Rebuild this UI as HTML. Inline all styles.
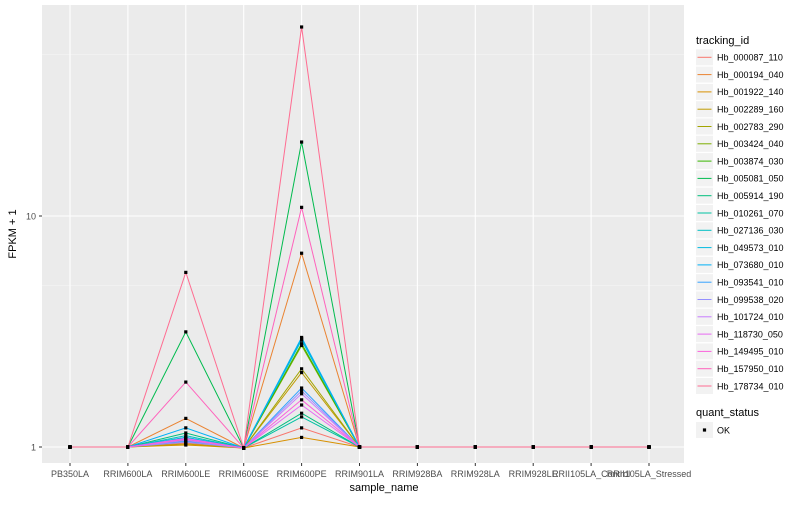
<!DOCTYPE html>
<html><head><meta charset="utf-8">
<style>
body{margin:0;background:#fff;font-family:"Liberation Sans",sans-serif;}
svg text{font-family:"Liberation Sans",sans-serif;}
</style></head>
<body>
<svg id="chart" width="800" height="500" xmlns="http://www.w3.org/2000/svg">
<rect x="42" y="5" width="642" height="458" fill="#EBEBEB"/>
<g id="grid"></g>
<g id="series"></g>
<g id="points"></g>
<g id="axes"></g>
<g id="legend"></g>
</svg>
<script>
const categories = ["PB350LA","RRIM600LA","RRIM600LE","RRIM600SE","RRIM600PE","RRIM901LA","RRIM928BA","RRIM928LA","RRIM928LE","RRII105LA_Control","RRII105LA_Stressed"];
const seriesIds = ["Hb_000087_110","Hb_000194_040","Hb_001922_140","Hb_002289_160","Hb_002783_290","Hb_003424_040","Hb_003874_030","Hb_005081_050","Hb_005914_190","Hb_010261_070","Hb_027136_030","Hb_049573_010","Hb_073680_010","Hb_093541_010","Hb_099538_020","Hb_101724_010","Hb_118730_050","Hb_149495_010","Hb_157950_010","Hb_178734_010"];
const colors = ["#F8766D","#EA8331","#D89000","#C09B00","#A3A500","#7CAE00","#39B600","#00BB4E","#00BF7D","#00C1A3","#00BFC4","#00BAE0","#00B0F6","#35A2FF","#9590FF","#C77CFF","#E76BF3","#FA62DB","#FF62BC","#FF6C91"];
// values at RRIM600LE, RRIM600PE (others ~1)
const leValues = [1.04,1.33,1.02,1.03,1.05,1.08,1.07,3.15,1.15,1.1,1.12,1.1,1.21,1.06,1.05,1.07,1.09,1.08,1.91,5.7];
const peValues = [1.21,6.9,1.1,2.1,2.18,2.75,2.8,20.9,1.4,1.35,2.95,2.9,2.98,1.8,1.75,1.7,1.52,1.6,10.9,65.8];
const seValues = [0.99,0.99,0.99,0.99,0.99,0.99,0.99,0.99,0.99,0.99,0.99,0.99,0.99,0.99,0.99,0.99,0.99,0.99,0.99,0.99];
const yTicks = [1,10];

const NS="http://www.w3.org/2000/svg";
function mk(tag,attrs,parent){const e=document.createElementNS(NS,tag);for(const k in attrs)e.setAttribute(k,attrs[k]);parent.appendChild(e);return e;}
const xPos=i=>70+i*57.9;
const yPos=v=>447-231*Math.log10(v);
const grid=document.getElementById('grid'),ser=document.getElementById('series'),pts=document.getElementById('points'),axes=document.getElementById('axes'),leg=document.getElementById('legend');

// minor grid
[0.5,5,50].forEach(v=>{const y=yPos(v);if(y>5&&y<463){const l=mk('line',{x1:42,x2:684,y1:y,y2:y,stroke:'#F5F5F5','stroke-width':0.6},grid);

}});
yTicks.forEach(v=>{const y=yPos(v);const l=mk('line',{x1:42,x2:684,y1:y,y2:y,stroke:'#fff','stroke-width':1.1},grid);


mk('line',{x1:39,x2:42,y1:y,y2:y,stroke:'#333'},axes);
const t=mk('text',{x:36,y:y+3.5,'text-anchor':'end','font-size':9,fill:'#4D4D4D'},axes);t.textContent=v;

});
categories.forEach((c,i)=>{const x=xPos(i);const l=mk('line',{x1:x,x2:x,y1:5,y2:463,stroke:'#fff','stroke-width':1.1},grid);


mk('line',{x1:x,x2:x,y1:463,y2:466,stroke:'#333'},axes);
const t=mk('text',{x:x,y:477,'text-anchor':'middle','font-size':9,fill:'#4D4D4D'},axes);t.textContent=c;

});

seriesIds.forEach((id,s)=>{
  const vals=categories.map((c,i)=>i===2?leValues[s]:i===3?seValues[s]:i===4?peValues[s]:1);
  const d=vals.map((v,i)=>(i?'L':'M')+xPos(i).toFixed(1)+','+yPos(v).toFixed(1)).join(' ');
  const p=mk('path',{d:d,fill:'none',stroke:colors[s],'stroke-width':1},ser);
  
  
  vals.forEach((v,i)=>{const r=mk('rect',{x:xPos(i)-1.6,y:yPos(v)-1.6,width:3.2,height:3.2,fill:'#000'},pts);
  
  });
  const ly=57.3+s*17.3;
  const bg=mk('rect',{x:696,y:ly-8,width:17,height:16,fill:'#F2F2F2'},leg);
  
  
  mk('line',{x1:697.5,x2:711.5,y1:ly,y2:ly,stroke:colors[s],'stroke-width':1},leg);
  const t=mk('text',{x:717,y:ly+3.3,'font-size':9,fill:'#000'},leg);t.textContent=id;
  
  
});
</script>
<svg style="position:absolute;left:0;top:0" width="800" height="500">
<text x="384" y="491" text-anchor="middle" font-size="11" fill="#000">sample_name</text>
<text transform="translate(16,234) rotate(-90)" text-anchor="middle" font-size="11" fill="#000">FPKM + 1</text>
<text x="696" y="44" font-size="11" fill="#000">tracking_id</text>
<text x="696" y="416" font-size="11" fill="#000">quant_status</text>
<rect x="696" y="422" width="17" height="16" fill="#F2F2F2"/>
<rect x="702.9" y="428.4" width="3.2" height="3.2" fill="#000"/>
<text x="717" y="433.3" font-size="9" fill="#000">OK</text>
</svg>
</body></html>
